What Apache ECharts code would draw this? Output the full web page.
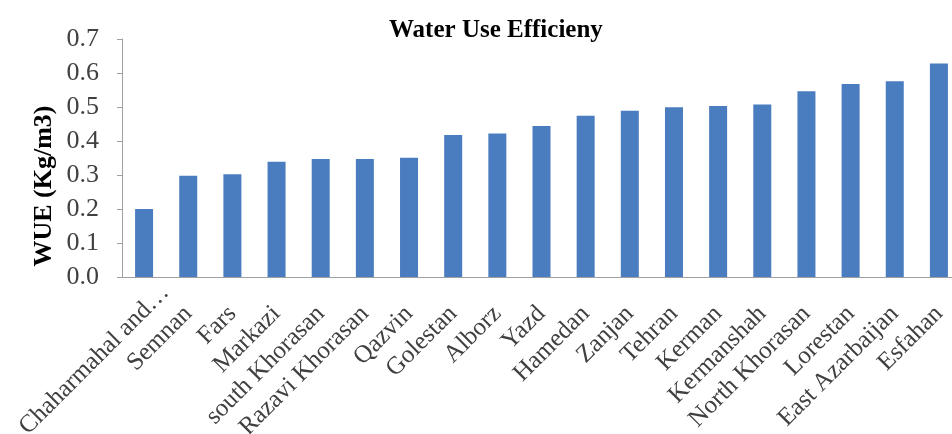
<!DOCTYPE html>
<html>
<head>
<meta charset="utf-8">
<script src="https://cdn.jsdelivr.net/npm/echarts@6/dist/echarts.min.js"></script>
<style>html,body{margin:0;padding:0;background:#fff}#c{width:952px;height:434px}</style>
</head>
<body>
<div id="c"></div>
<script>
const categories = ["Chaharmahal and\u2026","Semnan","Fars","Markazi","south Khorasan","Razavi Khorasan","Qazvin","Golestan","Alborz","Yazd","Hamedan","Zanjan","Tehran","Kerman","Kermanshah","North Khorasan","Lorestan","East Azarbaijan","Esfahan"];
const wueValues = [0.200,0.298,0.302,0.339,0.347,0.347,0.351,0.418,0.422,0.444,0.474,0.489,0.499,0.503,0.507,0.546,0.568,0.576,0.628];
const yTicks = {min:0, max:0.7, interval:0.1};
const titleText = "Water Use Efficieny";
const yName = "WUE (Kg/m3)";

const xData = categories.map((c, i) => i === 0 ? {value:c, textStyle:{padding:[0,-30,0,0]}} : c);

const chart = echarts.init(document.getElementById('c'));
chart.setOption({
  animation:false,
  backgroundColor:'#fff',
  title:{text:titleText, left:384, top:13, textStyle:{fontFamily:'Liberation Serif', fontWeight:'bold', fontSize:25, color:'#000'}},
  graphic:[{type:'text', x:44, y:186, rotation:Math.PI/2, style:{text:yName, fontFamily:'Liberation Serif', fontWeight:'bold', fontSize:26, fill:'#000', align:'center', verticalAlign:'middle'}}],
  grid:{left:122, right:-9, top:39, bottom:157, containLabel:false, outerBoundsMode:'none'},
  xAxis:{type:'category', data:xData,
    axisLine:{lineStyle:{color:'#a0a0a0', width:1}},
    axisTick:{show:false},
    axisLabel:{interval:0, rotate:45, margin:33, fontFamily:'Liberation Serif', fontSize:25, color:'#404040'}},
  yAxis:{type:'value', min:yTicks.min, max:yTicks.max, interval:yTicks.interval,
    splitLine:{show:false},
    axisLine:{show:true, lineStyle:{color:'#a0a0a0'}},
    axisTick:{show:true, length:5, lineStyle:{color:'#a0a0a0'}},
    axisLabel:{margin:23, fontFamily:'Liberation Serif', fontSize:26, color:'#404040', formatter:v=>v.toFixed(1)}},
  series:[{type:'bar', data:wueValues, barWidth:18, itemStyle:{color:'#4a7dbf'}}]
});
</script>
</body>
</html>
